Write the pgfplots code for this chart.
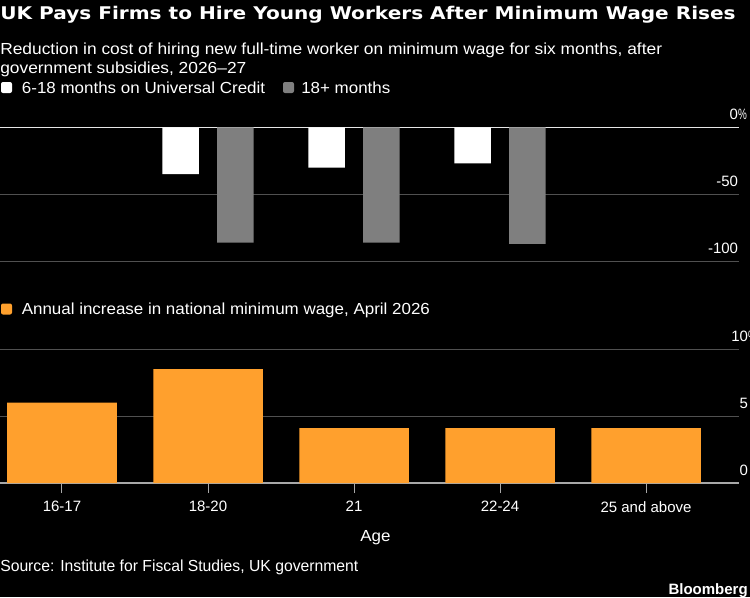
\documentclass[border=0pt]{standalone}
\usepackage{fontspec}
\usepackage{graphicx}
\setmainfont{Liberation Sans}
\newfontfamily\bodyst{Liberation Sans}[FakeStretch=1.06]
\newfontfamily\subst{Liberation Sans}[FakeStretch=1.085]
\newfontfamily\srcst{Liberation Sans}[FakeStretch=0.983]
\newfontfamily\titleff{DejaVu Sans}[FakeStretch=1.15]
\usepackage{pgfplots}
\pgfplotsset{compat=1.18}
\definecolor{bborange}{HTML}{FFA02D}
\definecolor{bbgrey}{HTML}{7F7F7F}
\definecolor{gridc}{HTML}{505050}
\definecolor{zeroc}{HTML}{A8A8A8}
\definecolor{zerotop}{HTML}{E6E6E6}
\newcommand{\tickfont}{\fontsize{11.25}{13}\selectfont}
\newcommand{\bodyfont}{\bodyst\fontsize{12}{14}\selectfont}
\newcommand{\subfont}{\subst\fontsize{12}{14}\selectfont}
\newcommand{\srcfont}{\srcst\fontsize{12}{14}\selectfont}
\newcommand{\titlefnt}{\titleff\fontsize{13.1}{16}\selectfont\bfseries}
\newcommand{\pct}{\scalebox{0.66}[1]{\%}}
\newcommand{\pph}{\hphantom{\pct}}
\begin{document}
\begin{tikzpicture}[x=0.75pt,y=0.75pt]
\fill[black] (0,0) rectangle (750,-597);
\path[use as bounding box] (0,0) rectangle (750,-597);
\pgfplotsset{bb/.style={
  scale only axis, width=554.25pt, height=100.5pt,
  xmin=-0.42466, xmax=4.6370,
  clip=false,
  axis line style={draw=none},
  ymajorgrids, grid style={gridc, line width=0.75pt},
  yticklabel pos=right,
  ytick style={draw=none},
  yticklabel style={anchor=base east, inner sep=0pt, xshift=6.1pt, yshift=6pt, font=\tickfont, text=white},
  xticklabel style={font=\tickfont, text=white},
}}
% top panel
\begin{axis}[bb, at={(0pt,-95.475pt)}, anchor=north west, ymin=-100, ymax=0,
  ytick={-100,-50,0}, yticklabels={-100\pph,-50\pph,0\pct},
  xtick=\empty,
  extra y ticks={0}, extra y tick labels={}, extra y tick style={grid style={zerotop, line width=1.2pt}}]
\addplot[ybar, bar width=0.25, bar shift=-0.1875, fill=white, draw=none] coordinates {(1,-35) (2,-30) (3,-27)};
\addplot[ybar, bar width=0.25, bar shift=0.1875, fill=bbgrey, draw=none] coordinates {(1,-86) (2,-86) (3,-87)};
\end{axis}
% bottom panel
\begin{axis}[bb, at={(0pt,-261.75pt)}, anchor=north west, ymin=0, ymax=10,
  ytick={0,5,10}, yticklabels={0\pph,5\pph,10\pct},
  extra y ticks={0}, extra y tick labels={}, extra y tick style={grid style={zeroc, line width=1.1pt}},
  xtick={0,1,2,3,4}, xticklabels={16-17,18-20,21,22-24,25 and above},
  xtick pos=bottom, tick align=outside, major x tick style={draw=zeroc, line width=0.75pt}, major tick length=7.5pt,
  xticklabel style={anchor=north, inner sep=0pt, yshift=-6pt}]
\addplot[ybar, bar width=0.75, bar shift=0, fill=bborange, draw=none] coordinates {(0,6.0) (1,8.5) (2,4.1) (3,4.1) (4,4.1)};
\end{axis}
% texts
\node[anchor=base west, inner sep=0pt, font=\titlefnt, text=white] at (0,-19.5) {UK Pays Firms to Hire Young Workers After Minimum Wage Rises};
\node[anchor=base west, inner sep=0pt, font=\subfont, text=white] at (0,-54) {Reduction in cost of hiring new full-time worker on minimum wage for six months, after};
\node[anchor=base west, inner sep=0pt, font=\subfont, text=white] at (0,-73.3) {government subsidies, 2026–27};
\fill[white, rounded corners=1.5pt] (1,-82) rectangle (12,-93);
\node[anchor=base west, inner sep=0pt, font=\bodyfont, text=white] at (21.7,-93.3) {6-18 months on Universal Credit};
\fill[bbgrey, rounded corners=1.5pt] (283,-82) rectangle (294,-93);
\node[anchor=base west, inner sep=0pt, font=\bodyfont, text=white] at (301,-93.3) {18+ months};
\fill[bborange, rounded corners=1.5pt] (1,-303.5) rectangle (12,-314.5);
\node[anchor=base west, inner sep=0pt, font=\bodyfont, text=white] at (21.5,-314) {Annual increase in national minimum wage, April 2026};
\node[anchor=base, inner sep=0pt, font=\bodyfont, text=white] at (375.5,-541.7) {Age};
\node[anchor=base west, inner sep=0pt, font=\srcfont, text=white] at (0,-571.7) {Source: Institute for Fiscal Studies, UK government};
\node[anchor=base east, inner sep=0pt, font=\tickfont\bfseries, text=white] at (748,-594) {Bloomberg};
\end{tikzpicture}
\end{document}
